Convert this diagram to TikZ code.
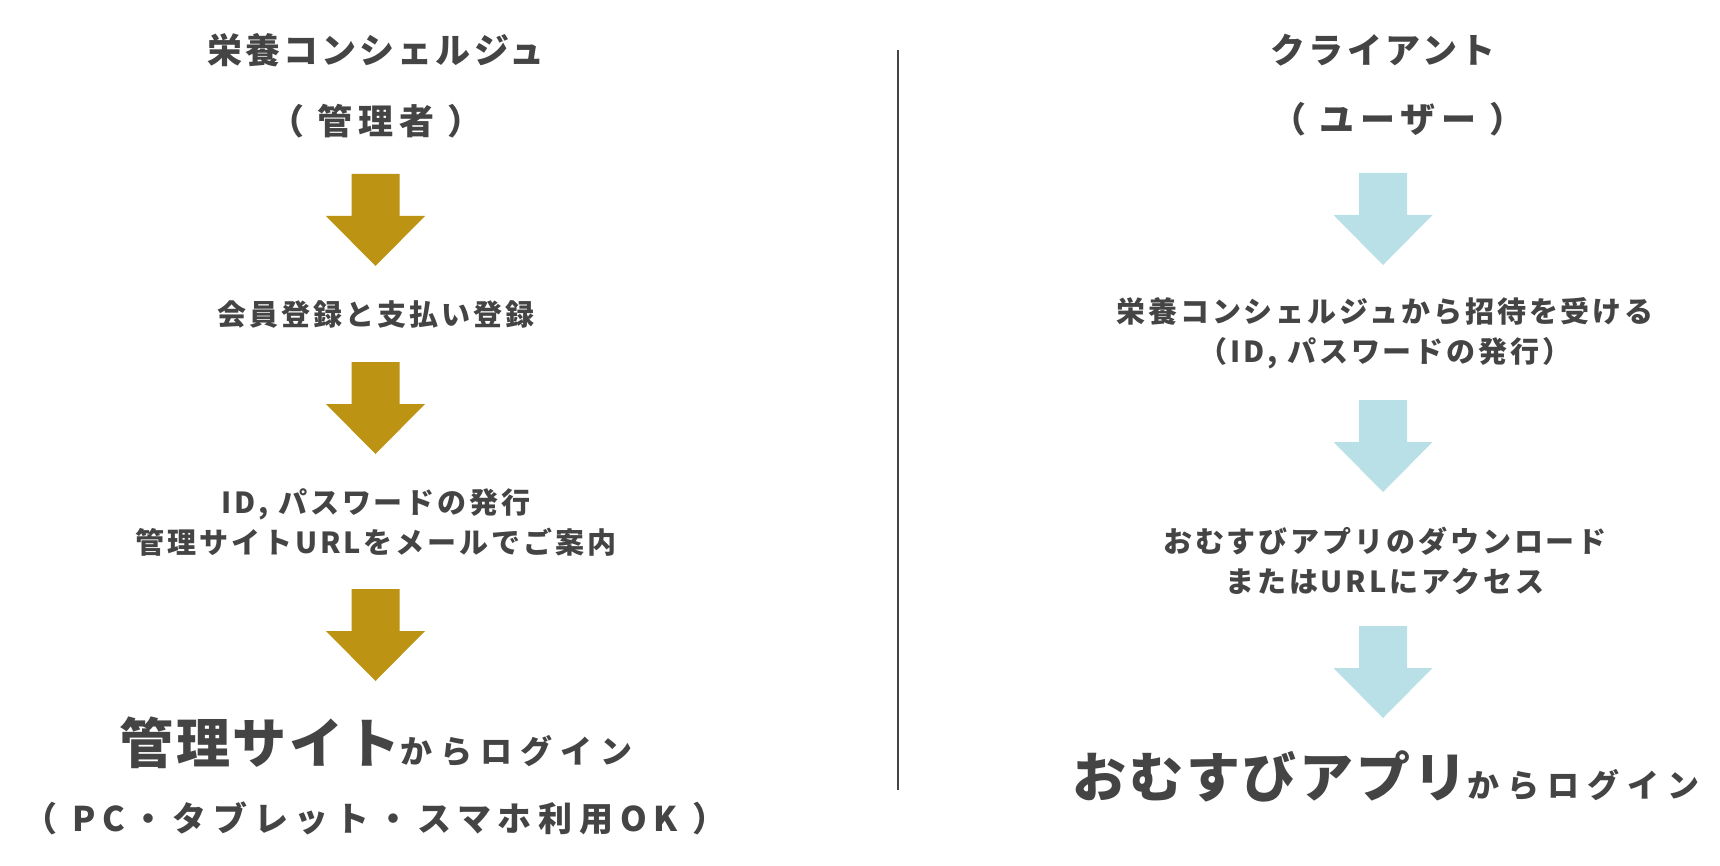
\documentclass[tikz,border=0pt]{standalone}
\usepackage{fontspec}
\setmainfont{Noto Sans CJK JP}
\newfontfamily\jpA{Noto Sans CJK JP}[LetterSpace=9]
\newfontfamily\jpAA{Noto Sans CJK JP}[LetterSpace=16]
\newfontfamily\jpB{Noto Sans CJK JP}[LetterSpace=10]
\newfontfamily\jpC{Noto Sans CJK JP}[LetterSpace=25]
\newfontfamily\jpD{Noto Sans CJK JP}[LetterSpace=5]
\newfontfamily\jpE{Noto Sans CJK JP}[LetterSpace=20]
\definecolor{txt}{HTML}{444444}
\definecolor{gold}{HTML}{BC9312}
\definecolor{aqua}{HTML}{B8E0E6}
\tikzset{
  blockarrow/.pic={\fill (-24,0) -- (24,0) -- (24,42) -- (49.5,42) -- (0,92) -- (-49.5,42) -- (-24,42) -- cycle;},
  lbl/.style={text=txt, inner sep=0pt, align=center, font=\bfseries},
  title/.style={lbl, font=\jpA\bfseries\fontsize{35}{40}\selectfont},
  subtitle/.style={lbl, font=\jpAA\bfseries\fontsize{35}{40}\selectfont},
  stepA/.style={lbl, font=\jpB\bfseries\fontsize{29}{40}\selectfont},
}
\begin{document}
\begin{tikzpicture}[x=1pt,y=-1pt]
\useasboundingbox (0,0) rectangle (1720,866);
\fill[white] (0,0) rectangle (1720,866);
% divider
\draw[line width=1.6pt, txt] (898,50) coordinate (d1) -- (898,790) coordinate (d2);
% left column
\node[title] (l1) at (376,50) {栄養コンシェルジュ};
\node[subtitle] (l2) at (376,121) {（ 管理者 ）};
\pic[gold] at (375.5,174) {blockarrow};
\node[stepA] (l3) at (376,314) {会員登録と支払い登録};
\pic[gold] at (375.5,362) {blockarrow};
\node[stepA] (l4) at (376,522) {ID, パスワードの発行\\管理サイトURLをメールでご案内};
\pic[gold] at (375.5,589) {blockarrow};
\node[lbl, anchor=base] (l5) at (376,763) {{\jpD\bfseries\fontsize{54}{58}\selectfont 管理サイト}{\jpC\bfseries\fontsize{32}{36}\selectfont からログイン}};
\node[lbl, font=\jpE\bfseries\fontsize{34}{40}\selectfont] (l6) at (375,818) {（ PC・タブレット・スマホ利用OK ）};
% right column
\node[title] (r1) at (1383,50) {クライアント};
\node[subtitle] (r2) at (1398,119) {（ ユーザー ）};
\pic[aqua] at (1383,173) {blockarrow};
\node[stepA] (r3) at (1385,333) {栄養コンシェルジュから招待を受ける\\（ID, パスワードの発行）};
\pic[aqua] at (1383,400) {blockarrow};
\node[stepA] (r4) at (1385,561) {おむすびアプリのダウンロード\\またはURLにアクセス};
\pic[aqua] at (1383,626) {blockarrow};
\node[lbl, anchor=base] (r5) at (1386,797) {{\jpD\bfseries\fontsize{54}{58}\selectfont おむすびアプリ}{\jpC\bfseries\fontsize{32}{36}\selectfont からログイン}};
\end{tikzpicture}
\end{document}
